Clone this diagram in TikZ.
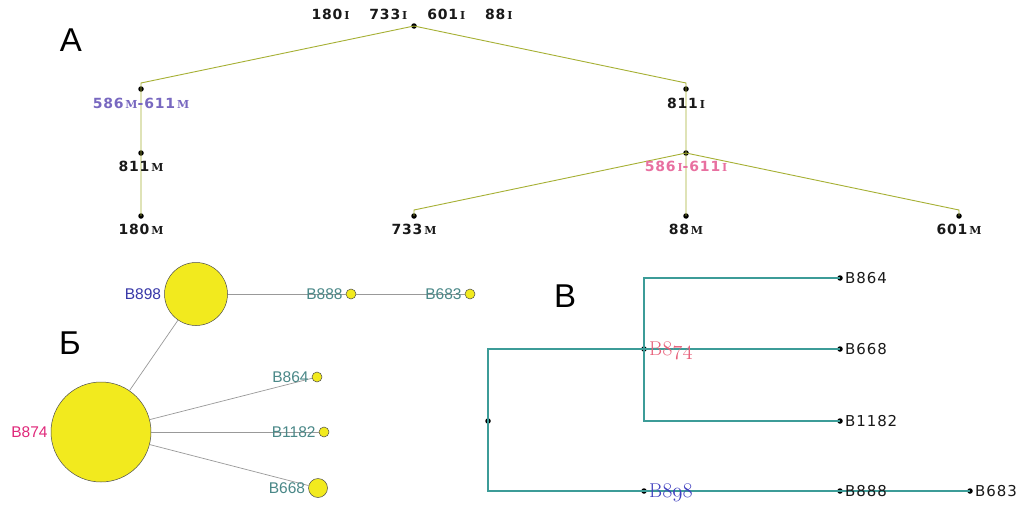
\documentclass[tikz,border=0pt]{standalone}
\usepackage{fontspec}
\newfontfamily\sansA[LetterSpace=6]{DejaVu Sans}
\newfontfamily\serifA{DejaVu Serif}
\newfontfamily\arialf{Liberation Sans}
\definecolor{olive}{HTML}{A6B034}
\definecolor{tealline}{HTML}{3C9C98}
\definecolor{purpA}{HTML}{7868C0}
\definecolor{pinkA}{HTML}{E870A0}
\definecolor{blueB}{HTML}{3838A8}
\definecolor{magB}{HTML}{E0287A}
\definecolor{tealtxt}{HTML}{4A8888}
\definecolor{pinkV}{HTML}{E8607A}
\definecolor{blueV}{HTML}{4040C0}
\definecolor{yel}{HTML}{F2EA1E}
\newcommand\smc[1]{{\serifA\bfseries\fontsize{11}{11}\selectfont\,#1}}
\tikzset{
  dot/.style={circle, fill=black, inner sep=0pt, minimum size=5.5pt},
  lblA/.style={inner sep=0pt, font=\sansA\bfseries\fontsize{14}{14}\selectfont, text=black!90},
  lblV/.style={inner sep=0pt, anchor=west, font=\sansA\fontsize{15}{15}\selectfont, text=black!90},
  lblB/.style={inner sep=0pt, anchor=east, font=\arialf\fontsize{15.5}{16}\selectfont, text=tealtxt},
  panel/.style={inner sep=0pt, font=\arialf\fontsize{33}{33}\selectfont},
  aline/.style={draw=olive, line width=0.9pt},
  vline/.style={draw=tealline, line width=1.1pt},
  gline/.style={draw=black!40, line width=0.7pt},
  hap/.style={circle, draw=black!70, line width=0.5pt, fill=yel, inner sep=0pt}
}
\begin{document}
\begin{tikzpicture}[x=1pt,y=-1pt]
\useasboundingbox[fill=white] (0,0) rectangle (1025,506);
% ---------- Panel A ----------
\node[panel] (pA) at (71,40) {A};
\node[dot] (root) at (414,26) {};
\node[dot] (n586m) at (141,89) {};
\node[dot] (n811m) at (141,153) {};
\node[dot] (n180m) at (141,216) {};
\node[dot] (n811i) at (686,89) {};
\node[dot] (n586i) at (686,153) {};
\node[dot] (n733m) at (414,216) {};
\node[dot] (n88m) at (686,216) {};
\node[dot] (n601m) at (959,216) {};
\draw[aline] (root.center) -- ([yshift=6pt]n586m.center) -- (n811m.center) -- (n180m.center);
\draw[aline] (root.center) -- ([yshift=6pt]n811i.center) -- (n586i.center) -- (n88m.center);
\draw[aline] (n586i.center) -- ([yshift=6pt]n733m.center) -- (n733m.center);
\draw[aline] (n586i.center) -- ([yshift=6pt]n601m.center) -- (n601m.center);
\node[lblA] (troot) at (412,14) {180\smc{I}\hspace{20pt}733\smc{I}\hspace{20pt}601\smc{I}\hspace{20pt}88\smc{I}};
\node[lblA, text=purpA] (t586m) at (141,103) {586\smc{M}-611\smc{M}};
\node[lblA] (t811m) at (141,166) {811\smc{M}};
\node[lblA] (t180m) at (141,229) {180\smc{M}};
\node[lblA] (t811i) at (686,103) {811\smc{I}};
\node[lblA, text=pinkA] (t586i) at (686,166) {586\smc{I}-611\smc{I}};
\node[lblA] (t733m) at (414,229) {733\smc{M}};
\node[lblA] (t88m) at (686,229) {88\smc{M}};
\node[lblA] (t601m) at (959,229) {601\smc{M}};
% ---------- Panel B (network) ----------
\node[panel] (pB) at (70,343) {Б};
\node[hap, minimum size=63pt] (c898) at (196,294) {};
\node[hap, minimum size=100pt] (c874) at (101,432) {};
\node[hap, minimum size=10pt] (c888) at (351,294) {};
\node[hap, minimum size=10pt] (c683) at (470,294) {};
\node[hap, minimum size=10pt] (c864) at (317,377) {};
\node[hap, minimum size=10pt] (c1182) at (324,432) {};
\node[hap, minimum size=19pt] (c668) at (318,488) {};
\draw[gline] (c874) -- (c898);
\draw[gline] (c898) -- (c888);
\draw[gline] (c888) -- (c683);
\draw[gline] (c874) -- (c864);
\draw[gline] (c874) -- (c1182);
\draw[gline] (c874) -- (c668);
\node[lblB, text=blueB] (t898) at ([xshift=-3pt]c898.west) {B898};
\node[lblB, text=magB] (t874) at ([xshift=-3pt]c874.west) {B874};
\node[lblB] (t888) at ([xshift=-3pt]c888.west) {B888};
\node[lblB] (t683) at ([xshift=-3pt]c683.west) {B683};
\node[lblB] (t864) at ([xshift=-3pt]c864.west) {B864};
\node[lblB] (t1182) at ([xshift=-3pt]c1182.west) {B1182};
\node[lblB] (t668) at ([xshift=-3pt]c668.west) {B668};
% ---------- Panel V (tree) ----------
\node[panel] (pV) at (565,296) {В};
\node[dot] (vr) at (488,421) {};
\node[dot] (v874) at (644,349) {};
\node[dot] (v898) at (644,491) {};
\node[dot] (v864) at (840,278) {};
\node[dot] (v668) at (840,349) {};
\node[dot] (v1182) at (840,421) {};
\node[dot] (v888) at (840,491) {};
\node[dot] (v683) at (970,491) {};
\draw[vline] (v874.center) -| (vr.center) |- (v898.center);
\draw[vline] (v864.center) -| (v874.center) |- (v1182.center);
\draw[vline] (v874.center) -- (v668.center);
\draw[vline] (v898.center) -- (v888.center) -- (v683.center);
\node[lblV] (u864) at ([xshift=5pt]v864.center) {B864};
\node[lblV] (u668) at ([xshift=5pt]v668.center) {B668};
\node[lblV] (u1182) at ([xshift=5pt]v1182.center) {B1182};
\node[lblV] (u888) at ([xshift=5pt]v888.center) {B888};
\node[lblV] (u683) at ([xshift=5pt]v683.center) {B683};
\node[inner sep=0pt, anchor=west, text=pinkV, font=\fontsize{20}{20}\selectfont] (u874) at ([xshift=5pt,yshift=-2pt]v874.center) {B$\mathnormal{874}$};
\node[inner sep=0pt, anchor=west, text=blueV, font=\fontsize{20}{20}\selectfont] (u898) at ([xshift=5pt,yshift=-2pt]v898.center) {B$\mathnormal{898}$};
\end{tikzpicture}
\end{document}
